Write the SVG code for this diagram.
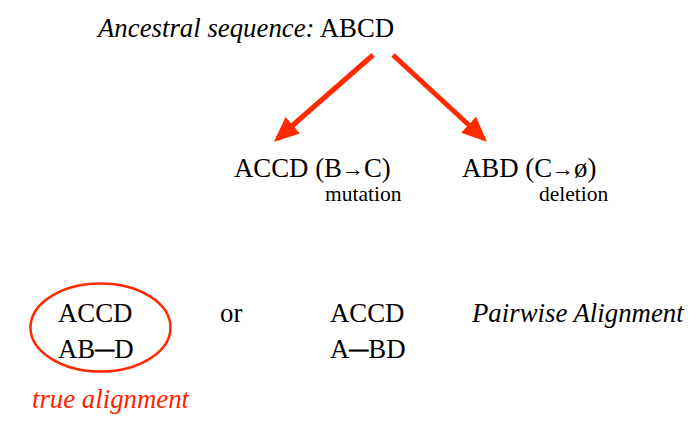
<svg xmlns="http://www.w3.org/2000/svg" width="699" height="421" viewBox="0 0 699 421">
<style>
text{font-family:"Liberation Serif","Times New Roman",serif;fill:#000}
.b{font-size:26.8px}
.s{font-size:21.5px}
.i{font-style:italic}
.r{fill:#ff2200}
.d{font-size:19px;font-weight:bold;stroke:#000;stroke-width:0.7}
.a{font-size:22px}
.c{stroke:#ff2a00;stroke-width:5;fill:none}
</style>
<defs>
<marker id="ah" markerWidth="5" markerHeight="4.4" refX="4.2" refY="2.2" orient="auto" markerUnits="strokeWidth">
<path d="M0,0 L5,2.2 L0,4.4 Z" fill="#ff2a00"/>
</marker>
</defs>
<g id="ancestor"><text class="b" x="98" y="37"><tspan class="i">Ancestral sequence:</tspan> ABCD</text></g>
<g id="connectors">
<line class="c" x1="373" y1="55" x2="277" y2="139" marker-end="url(#ah)"/>
<line class="c" x1="393" y1="55" x2="484" y2="139" marker-end="url(#ah)"/>
</g>
<g id="mutation">
<text class="b" x="234" y="177">ACCD (B<tspan class="a" dy="-1.5">→</tspan><tspan dy="1.5">C)</tspan></text>
<text class="s" x="325" y="201">mutation</text>
</g>
<g id="deletion">
<text class="b" x="462" y="177">ABD (C<tspan class="a" dy="-1.5">→</tspan><tspan dy="1.5">ø)</tspan></text>
<text class="s" x="539" y="201">deletion</text>
</g>
<g id="true-alignment">
<ellipse cx="100.5" cy="327.5" rx="70" ry="44" fill="none" stroke="#ff2a00" stroke-width="2.5"/>
<text class="b" x="58" y="322">ACCD</text>
<text class="b" x="58" y="358">AB<tspan class="d" dy="-3">—</tspan><tspan dy="3">D</tspan></text>
<text class="b i r" x="32" y="408">true alignment</text>
</g>
<g id="or"><text class="b" x="220" y="322">or</text></g>
<g id="alt-alignment">
<text class="b" x="330" y="322">ACCD</text>
<text class="b" x="330" y="358">A<tspan class="d" dy="-3">—</tspan><tspan dy="3">BD</tspan></text>
</g>
<g id="label"><text class="b i" x="472" y="322">Pairwise Alignment</text></g>
</svg>
